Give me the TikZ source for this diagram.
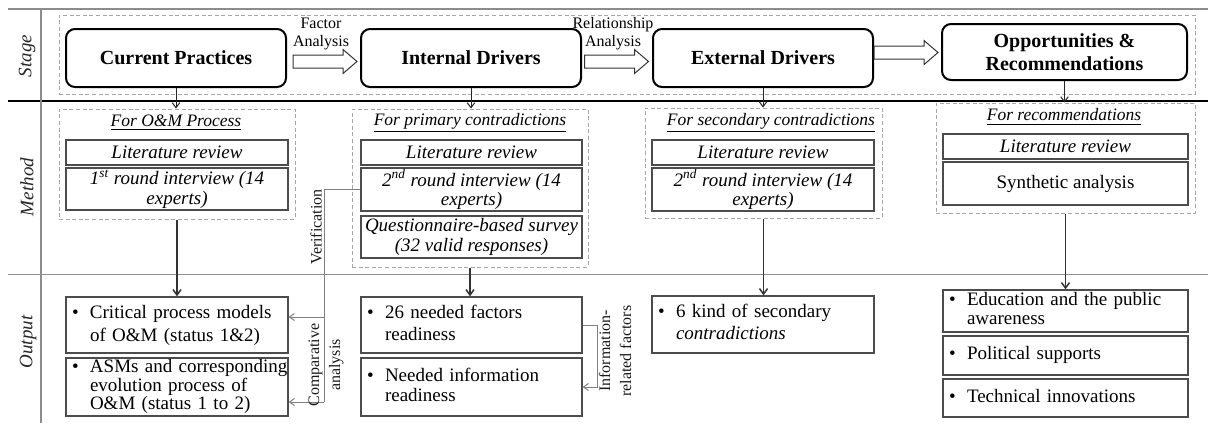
\documentclass[tikz,border=0pt]{standalone}
\usepackage{fontspec}
\setmainfont{Liberation Serif}
\usetikzlibrary{arrows.meta,calc}
\tikzset{
  stagebox/.style={draw=black, line width=1pt, rounded corners=4.5pt, align=center, inner sep=0pt,
    font=\fontsize{10}{11.5}\selectfont\bfseries},
  mbox/.style={draw=black!70, line width=0.6pt, align=center, inner sep=0pt,
    font=\fontsize{9.5}{8.5}\selectfont\itshape},
  dbox/.style={draw=black!35, line width=0.5pt, dash pattern=on 2pt off 1.3pt, inner sep=0pt},
  head/.style={inner sep=0pt, font=\fontsize{8.75}{10}\selectfont\itshape},
  rowlab/.style={inner sep=0pt, rotate=90, text=black!85, font=\fontsize{9.5}{11}\selectfont\itshape},
  slab/.style={inner sep=0pt, rotate=90, align=center, text=black!90, font=\fontsize{8}{10.5}\selectfont},
  toplab/.style={inner sep=0pt, align=center, font=\fontsize{8}{9}\selectfont},
  fatarr/.style={draw=black!80, line width=0.5pt, fill=white},
  sarr/.style={draw=black!85, line width=0.5pt, -{Straight Barb[length=2.5pt,width=3.8pt]}},
  darr/.style={draw=black!80, line width=0.75pt, -{Straight Barb[length=2.8pt,width=4pt]}},
  gconn/.style={draw=black!50, line width=0.5pt},
  garrow/.style={-{Straight Barb[length=2.5pt,width=3.5pt]}},
  gridg/.style={draw=black!45, line width=0.6pt},
}
\newcommand\bx[7]{%
  \pgfmathsetlengthmacro\bxw{(#4-#2)*0.5pt}%
  \pgfmathsetlengthmacro\bxh{(#5-#3)*0.5pt}%
  \node[#1, minimum width=\bxw, minimum height=\bxh] (#6) at ({(#2+#4)/2},{(#3+#5)/2}) {#7};}
\newcommand\ob[7][11]{%
  \pgfmathsetlengthmacro\obw{(#5-#3)*0.5pt-6pt}%
  \pgfmathsetlengthmacro\obh{(#6-#4)*0.5pt}%
  \node[draw=black!70, line width=0.6pt, align=left, inner ysep=0pt, inner xsep=3pt,
    text width=\obw, minimum height=\obh, font=\fontsize{9.5}{#1}\selectfont]
    (#2) at ({(#3+#5)/2},{(#4+#6)/2})
    {\makebox[9pt][l]{\textbullet}\begin{tabular}[t]{@{}l@{}}#7\end{tabular}};}
\newcommand\fat[1]{%
  \draw[fatarr] ([shift={(-32,-6.5)}]#1) -- ([shift={(18,-6.5)}]#1) -- ([shift={(18,-12)}]#1)
    -- ([shift={(32,0)}]#1) -- ([shift={(18,12)}]#1) -- ([shift={(18,6.5)}]#1)
    -- ([shift={(-32,6.5)}]#1) -- cycle;}
\begin{document}
\begin{tikzpicture}[x=0.5pt,y=-0.5pt]
\useasboundingbox (0,0) rectangle (1208,425);
% frame lines
\draw[gridg] (8,9) -- (1208,9);
\draw[black, line width=0.7pt] (8,101) -- (1208,101);
\draw[gridg] (8,274.5) -- (1208,274.5);
\draw[gridg] (41,9) -- (41,423);
% row labels
\node[rowlab] (lstage) at (27,56) {Stage};
\node[rowlab] (lmethod) at (27,187) {Method};
\node[rowlab] (loutput) at (28,342) {Output};
% stage row
\bx{dbox}{59}{15}{1195}{94}{sd}{}
\bx{stagebox}{66}{29}{286}{87}{cp}{Current Practices}
\bx{stagebox}{361}{29}{581}{87}{id}{Internal Drivers}
\bx{stagebox}{653}{29}{873}{87}{ed}{External Drivers}
\bx{stagebox}{942}{24}{1187}{80}{opp}{Opportunities \&\\Recommendations}
\coordinate (a1) at ($(cp.east)!0.5!(id.west)+(1.5,3.5)$);
\coordinate (a2) at ($(id.east)!0.5!(ed.west)+(-0.5,3.5)$);
\coordinate (a3) at ($(ed.east)!0.5!(opp.west)+(-1.5,-2.5)$);
\fat{a1}
\fat{a2}
\fat{a3}
\node[toplab] (fa) at (321,34) {Factor\\Analysis};
\node[toplab] (ra) at (613,34) {Relationship\\Analysis};
% method row
\bx{dbox}{59}{109}{295}{219}{m1}{}
\bx{dbox}{352}{109}{588}{267}{m2}{}
\bx{dbox}{645}{108}{882}{218}{m3}{}
\bx{dbox}{936}{103}{1195}{213}{m4}{}
\node[head] (h1) at (176,123) {\underline{For O\&M Process}};
\node[head] (h2) at (470,123) {\underline{For primary contradictions}};
\node[head] (h3) at (771,123) {\underline{For secondary contradictions}};
\node[head] (h4) at (1064,117) {\underline{For recommendations}};
\bx{mbox}{66}{140}{288}{165}{l1}{Literature review}
\bx{mbox}{66}{168}{288}{210}{r1}{1\textsuperscript{st} round interview (14\\experts)}
\bx{mbox}{361}{140}{582}{165}{l2}{Literature review}
\bx{mbox}{361}{168}{582}{211}{r2}{2\textsuperscript{nd} round interview (14\\experts)}
\bx{mbox}{361}{216}{582}{258}{q2}{Questionnaire-based survey\\(32 valid responses)}
\bx{mbox}{652}{140}{874}{165}{l3}{Literature review}
\bx{mbox}{652}{168}{874}{211}{r3}{2\textsuperscript{nd} round interview (14\\experts)}
\bx{mbox}{943}{134}{1188}{159}{l4}{Literature review}
\bx{mbox}{943}{162}{1188}{205}{s4}{\upshape Synthetic analysis}
% output row
\ob[11.5]{o1a}{66}{297}{288}{353}{Critical process models\\of O\&M (status 1\&2)}
\ob[9]{o1b}{66}{358}{288}{416}{ASMs and corresponding\\evolution process of\\O\&M (status 1 to 2)}
\ob[11]{o2a}{361}{297}{582}{353}{26 needed factors\\readiness}
\ob[10]{o2b}{361}{358}{582}{416}{Needed information\\readiness}
\ob[11]{o3}{652}{296}{874}{353}{6 kind of secondary\\\textit{contradictions}}
\ob[9.75]{o4a}{943}{290}{1188}{332}{Education and the public\\awareness}
\ob{o4b}{943}{336}{1188}{375}{Political supports}
\ob{o4c}{943}{379}{1188}{417}{Technical innovations}
% stage -> method arrows
\draw[sarr] (cp.south) -- (cp.south |- m1.north);
\draw[sarr] (id.south) -- (id.south |- m2.north);
\draw[sarr] (ed.south) -- (ed.south |- m3.north);
\draw[sarr] (opp.south) -- (opp.south |- m4.north);
% method -> output arrows
\draw[darr] (m1.south) -- (m1.south |- o1a.north);
\draw[darr] (m2.south) -- (m2.south |- o2a.north);
\draw[darr] (m3.south) -- (m3.south |- o3.north);
\draw[darr] (m4.south) -- (m4.south |- o4a.north);
% verification / comparative analysis connector
\coordinate (vt) at ($(r2.west)+(-36,0)$);
\coordinate (va) at ($(o1a.east)+(0,-8)$);
\coordinate (vb) at ($(o1b.east)+(0,15)$);
\draw[gconn] (r2.west) -- (vt) -- (vt |- vb);
\draw[gconn, garrow] (vt |- va) -- (va);
\draw[gconn, garrow] (vt |- vb) -- (vb);
\node[slab] (vl) at (316,227) {Verification};
\node[slab] (cl) at (326,365) {Comparative\\analysis};
% information-related factors connector
\draw[gconn, garrow] (o2a.east) -- ++(15,0) |- (o2b.east);
\node[slab] (il) at (615,351) {Information-\\related factors};
\end{tikzpicture}
\end{document}
